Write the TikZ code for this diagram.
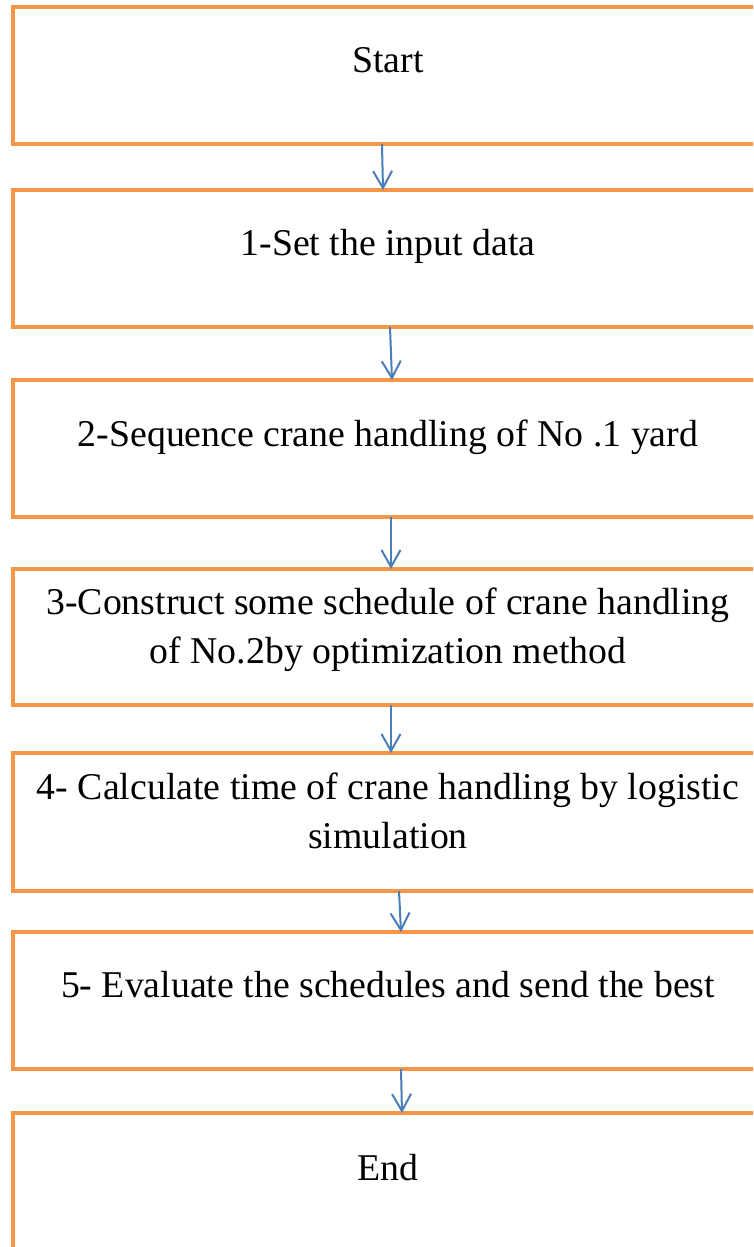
\documentclass[tikz,border=0pt]{standalone}
\usepackage{fontspec}
\setmainfont{Liberation Serif}
\usetikzlibrary{arrows.meta}
\definecolor{boxorange}{HTML}{F79646}
\definecolor{arrowblue}{HTML}{4A7EBB}
\tikzset{
  stepbox/.style={draw=boxorange, line width=4.6pt, rectangle, anchor=north west,
    minimum width=820pt, outer sep=0pt, inner sep=0pt},
  label/.style={anchor=base, align=center, inner sep=0pt,
    font=\fontsize{37.8pt}{49pt}\selectfont},
  arr/.style={draw=arrowblue, line width=2pt, -{Straight Barb[length=17pt,width=19pt,line width=2pt]}}
}
\begin{document}
\begin{tikzpicture}[x=1pt,y=-1pt]
\useasboundingbox (0,0) rectangle (753,1247);
\clip (0,0) rectangle (753,1247);
\fill[white] (0,0) rectangle (753,1247);
\node[stepbox, minimum height=137pt] (b0) at (13,7) {};
\node[stepbox, minimum height=137pt] (b1) at (13,190) {};
\node[stepbox, minimum height=137pt] (b2) at (13,380) {};
\node[stepbox, minimum height=136pt] (b3) at (13,569) {};
\node[stepbox, minimum height=138pt] (b4) at (13,753) {};
\node[stepbox, minimum height=137pt] (b5) at (13,932) {};
\node[stepbox, minimum height=200pt] (b6) at (13,1113) {};
\node[label] (t0) at (388,73) {Start};
\node[label] (t1) at (388,255) {1-Set the input data};
\node[label] (t2) at (388,446) {2-Sequence crane handling of No .1 yard};
\node[label] (t3) at (388,663) {3-Construct some schedule of crane handling\\of No.2by optimization method};
\node[label] (t4) at (388,848) {4- Calculate time of crane handling by logistic\\simulation};
\node[label] (t5) at (388,997) {5- Evaluate the schedules and send the best};
\node[label] (t6) at (388,1180) {End};
\draw[arr] ([xshift=369pt]b0.south west) -- ([xshift=370pt]b1.north west);
\draw[arr] ([xshift=377pt]b1.south west) -- ([xshift=379pt]b2.north west);
\draw[arr] ([xshift=378pt]b2.south west) -- ([xshift=378pt]b3.north west);
\draw[arr] ([xshift=378pt]b3.south west) -- ([xshift=378pt]b4.north west);
\draw[arr] ([xshift=386pt]b4.south west) -- ([xshift=388pt]b5.north west);
\draw[arr] ([xshift=388pt]b5.south west) -- ([xshift=389pt]b6.north west);
\end{tikzpicture}
\end{document}
